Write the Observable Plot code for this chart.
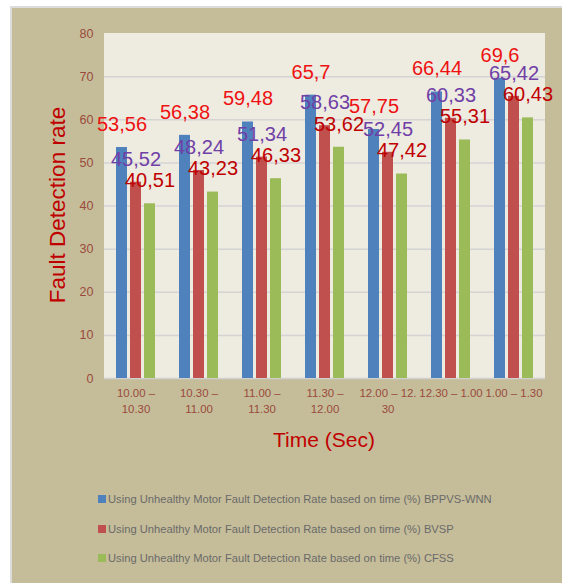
<!DOCTYPE html>
<html>
<head>
<meta charset="utf-8">
<script src="https://cdn.jsdelivr.net/npm/d3@7"></script>
<script src="https://cdn.jsdelivr.net/npm/@observablehq/plot@0.6"></script>
<style>
  html, body { margin: 0; padding: 0; background: #ffffff; }
  #wrap { position: relative; width: 562px; height: 583px; overflow: hidden; font-family: "Liberation Sans", Arial, sans-serif; }
  #bg { position: absolute; left: 10px; top: 6px; right: 0; bottom: 0; background: #c5bd99; border-left: 2px solid #dcdcdc; border-top: 2px solid #dcdcdc; }
  #plotbg { position: absolute; left: 104px; top: 33px; width: 441px; height: 345px; background: #eeebe1; }
  #chart { position: absolute; left: 0; top: 0; }
  .title { position: absolute; color: #c00000; white-space: nowrap; }
  #xtitle { font-size: 21px; left: 324px; top: 440px; transform: translate(-50%, -50%); }
  #ytitle { font-size: 22.5px; left: 58px; top: 205px; transform: translate(-50%, -50%) rotate(-90deg); }
  .leg { position: absolute; left: 98px; font-size: 11.2px; color: #6a6a6a; white-space: nowrap; display: flex; align-items: center; }
  .leg span.sw { display: inline-block; width: 8px; height: 8px; margin-right: 2px; }
</style>
</head>
<body>
<div id="wrap">
  <div id="bg"></div>
  <div id="plotbg"></div>
  <div id="chart"></div>
  <div id="ytitle" class="title">Fault Detection rate</div>
  <div id="xtitle" class="title">Time (Sec)</div>
  <div id="legend"></div>
</div>
<script>
// ---- data ----
const timeSlots = ["10.00 –\n10.30", "10.30 –\n11.00", "11.00 –\n11.30", "11.30 –\n12.00", "12.00 – 12.\n30", "12.30 – 1.00", "1.00 – 1.30"];
const seriesNames = [
  "Using Unhealthy Motor Fault Detection Rate based on time (%) BPPVS-WNN",
  "Using Unhealthy Motor Fault Detection Rate based on time (%) BVSP",
  "Using Unhealthy Motor Fault Detection Rate based on time (%) CFSS"
];
const bppvsWnn = [53.56, 56.38, 59.48, 65.7, 57.75, 66.44, 69.6];
const bvsp     = [45.52, 48.24, 51.34, 58.63, 52.45, 60.33, 65.42];
const cfss     = [40.51, 43.23, 46.33, 53.62, 47.42, 55.31, 60.43];
const yTicks = [0, 10, 20, 30, 40, 50, 60, 70, 80];

// ---- styles ----
const barColors = ["#4f81bd", "#c0504d", "#9bbb59"];
const labelColors = ["#ee1111", "#7040a6", "#c00000"];

const seriesValues = [bppvsWnn, bvsp, cfss];
const rows = [];
seriesValues.forEach((vals, si) => {
  vals.forEach((v, gi) => rows.push({slot: timeSlots[gi], series: seriesNames[si], si, value: v}));
});
const fmt = v => String(v).replace(".", ",");

const marks = [
  Plot.gridY(yTicks.filter(t => t > 0 && t < 80), {stroke: "#d4d4d4", strokeOpacity: 1, strokeWidth: 1.5}),
  Plot.ruleY([0], {stroke: "#d0d0d0", strokeWidth: 1.5}),
  Plot.axisY(yTicks, {tickSize: 0, tickPadding: 11, fontSize: 12.5, fill: "#9a4a3c", label: null}),
  Plot.axisFx({anchor: "bottom", tickSize: 0, tickPadding: 7, fontSize: 11.4, fill: "#9a4a3c", lineHeight: 1.4, label: null})
];
seriesNames.forEach((name, si) => {
  const d = rows.filter(r => r.si === si);
  marks.push(Plot.barY(d, {fx: "slot", x: "series", y: "value", fill: barColors[si]}));
});
seriesNames.forEach((name, si) => {
  const d = rows.filter(r => r.si === si);
  marks.push(Plot.text(d, {fx: "slot", x: "series", y: "value", text: r => fmt(r.value), dy: -23, fill: labelColors[si], fontSize: 20}));
});

const chart = Plot.plot({
  width: 562,
  height: 430,
  marginLeft: 104,
  marginRight: 17,
  marginTop: 33,
  marginBottom: 52,
  style: {background: "transparent", fontFamily: "Liberation Sans, Arial, sans-serif", overflow: "visible"},
  fx: {domain: timeSlots, padding: 0, label: null, axis: null},
  x: {domain: seriesNames, paddingInner: 3 / 14, paddingOuter: 0.857, axis: null},
  y: {domain: [0, 80], label: null},
  marks
});
document.getElementById("chart").appendChild(chart);

// ---- legend ----
const legend = document.getElementById("legend");
const legendTops = [499, 529, 558];
seriesNames.forEach((name, si) => {
  const row = document.createElement("div");
  row.className = "leg";
  row.style.top = (legendTops[si] - 7) + "px";
  row.style.height = "14px";
  row.innerHTML = `<span class="sw" style="background:${barColors[si]}"></span>${name}`;
  legend.appendChild(row);
});
</script>
</body>
</html>
